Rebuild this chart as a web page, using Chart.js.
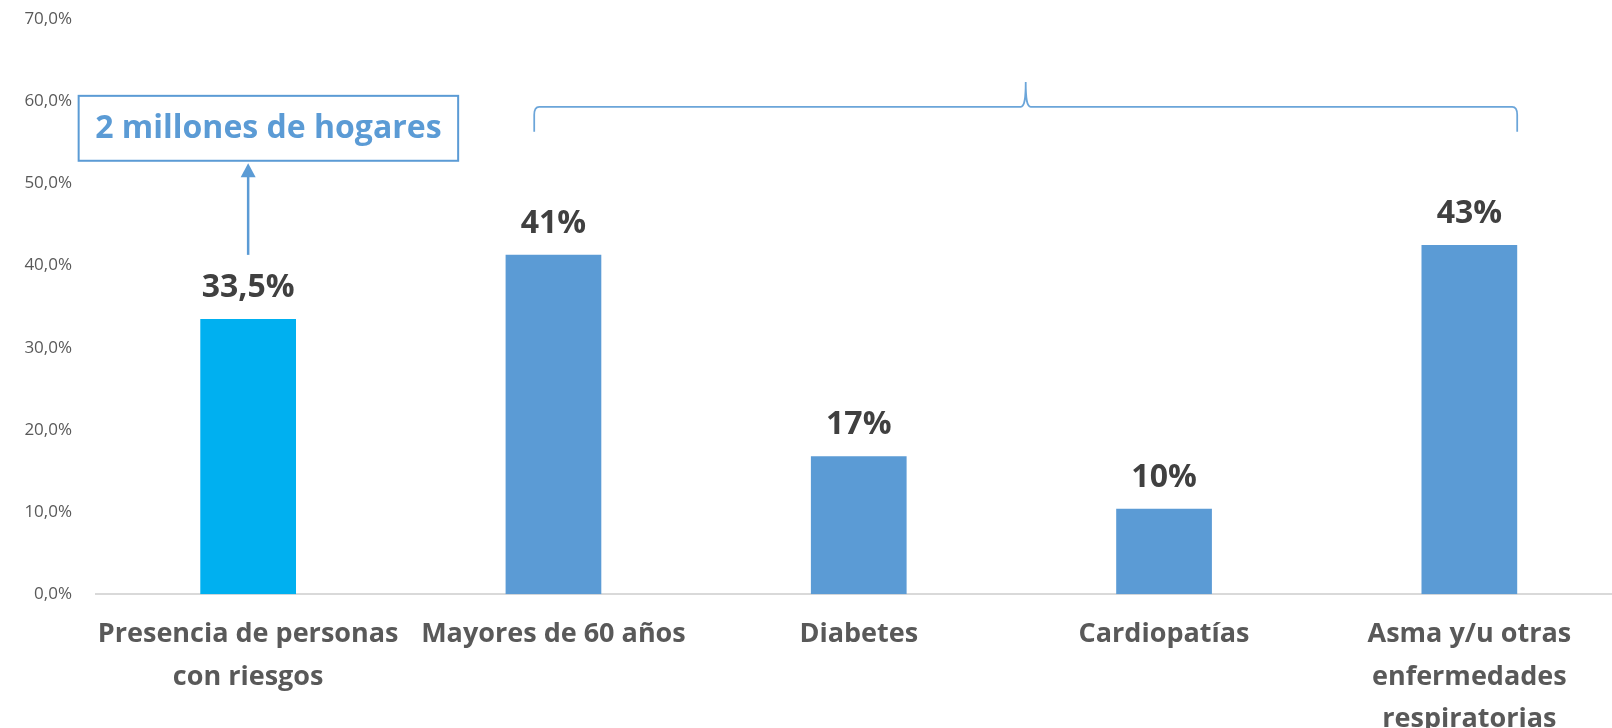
<!DOCTYPE html>
<html>
<head>
<meta charset="utf-8">
<script src="https://cdn.jsdelivr.net/npm/chart.js@4/dist/chart.umd.min.js"></script>
<style>
  html, body { margin: 0; padding: 0; background: #ffffff; overflow: hidden; width: 1612px; height: 728px; }
  #wrap { position: absolute; left: 0; top: 0; width: 1622px; height: 728px; }
</style>
</head>
<body>
<div id="wrap"><canvas id="c"></canvas></div>
<script>
// ---- data ----
const categories = [
  ["Presencia de personas", "con riesgos"],
  "Mayores de 60 años",
  "Diabetes",
  "Cardiopatías",
  ["Asma y/u otras", "enfermedades", "respiratorias"]
];
const values = [33.5, 41.3, 16.8, 10.4, 42.5];
const valueLabels = ["33,5%", "41%", "17%", "10%", "43%"];
const barColors = ["#00B0F0", "#5B9BD5", "#5B9BD5", "#5B9BD5", "#5B9BD5"];
const yMin = 0, yMax = 70, yStep = 10;
const calloutText = "2 millones de hogares";

const FONT = "'Open Sans', sans-serif";
const BLUE = "#5B9BD5";

const valueLabelPlugin = {
  id: 'valueLabels',
  afterDatasetsDraw(chart) {
    const ctx = chart.ctx;
    const meta = chart.getDatasetMeta(0);
    ctx.save();
    ctx.font = "bold 32px " + FONT;
    ctx.fillStyle = "#404040";
    ctx.textAlign = "center";
    ctx.textBaseline = "alphabetic";
    meta.data.forEach((bar, i) => {
      ctx.fillText(valueLabels[i], bar.x, bar.y - 22);
    });
    ctx.restore();
  }
};

const annotationPlugin = {
  id: 'annotations',
  afterDraw(chart) {
    const ctx = chart.ctx;
    const xs = chart.scales.x, ys = chart.scales.y;
    const c0 = xs.getPixelForValue(0);
    const c1 = xs.getPixelForValue(1);
    const c4 = xs.getPixelForValue(4);
    const cw = xs.getPixelForValue(1) - xs.getPixelForValue(0);
    const bar = chart.getDatasetMeta(0).data[4];
    const half = bar.width / 2;

    ctx.save();
    // callout box
    const bx0 = c0 - 169.5, bx1 = c0 + 210;
    const by0 = ys.getPixelForValue(60.65), by1 = ys.getPixelForValue(52.75);
    ctx.strokeStyle = BLUE;
    ctx.lineWidth = 2;
    ctx.strokeRect(bx0, by0, bx1 - bx0, by1 - by0);
    ctx.fillStyle = BLUE;
    ctx.font = "bold 32px " + FONT;
    ctx.textAlign = "center";
    ctx.textBaseline = "middle";
    ctx.fillText(calloutText, (bx0 + bx1) / 2, (by0 + by1) / 2 + 1);

    // arrow
    const ay0 = ys.getPixelForValue(41.3);
    const tip = by1 + 2.5;
    ctx.beginPath();
    ctx.moveTo(c0, ay0);
    ctx.lineTo(c0, tip + 12);
    ctx.lineWidth = 2.5;
    ctx.stroke();
    ctx.beginPath();
    ctx.moveTo(c0, tip);
    ctx.lineTo(c0 - 7.5, tip + 14);
    ctx.lineTo(c0 + 7.5, tip + 14);
    ctx.closePath();
    ctx.fill();

    // brace
    const L = c1 - 0.063 * cw;
    const R = c4 + half;
    const C = (L + R) / 2;
    const hy = ys.getPixelForValue(59.32);
    const bot = ys.getPixelForValue(56.29);
    const peak = ys.getPixelForValue(62.33);
    ctx.beginPath();
    ctx.moveTo(L, bot);
    ctx.lineTo(L, hy + 8);
    ctx.quadraticCurveTo(L, hy, L + 5, hy);
    ctx.lineTo(C - 5, hy);
    ctx.bezierCurveTo(C - 1.5, hy, C, hy - 6, C, peak);
    ctx.bezierCurveTo(C, hy - 6, C + 1.5, hy, C + 5, hy);
    ctx.lineTo(R - 5, hy);
    ctx.quadraticCurveTo(R, hy, R, hy + 8);
    ctx.lineTo(R, bot);
    ctx.strokeStyle = "rgba(91,155,213,0.9)";
    ctx.lineWidth = 1.75;
    ctx.stroke();
    ctx.restore();
  }
};

new Chart(document.getElementById('c'), {
  type: 'bar',
  data: {
    labels: categories,
    datasets: [{
      data: values,
      backgroundColor: barColors,
      borderWidth: 0,
      categoryPercentage: 1.0,
      barPercentage: 0.3135
    }]
  },
  options: {
    responsive: true,
    maintainAspectRatio: false,
    animation: false,
    events: [],
    layout: { padding: { left: 0, right: 0, top: 19, bottom: 0 } },
    plugins: {
      legend: { display: false },
      tooltip: { enabled: false },
      title: { display: false }
    },
    scales: {
      x: {
        offset: true,
        grid: { display: false, drawTicks: false },
        border: { display: true, color: "#d9d9d9", width: 2 },
        ticks: {
          autoSkip: false,
          maxRotation: 0,
          minRotation: 0,
          padding: 19,
          color: "#595959",
          font: { family: FONT, size: 27, weight: 'bold', lineHeight: 1.57 }
        },
        afterFit(s) { s.height = 133.7; }
      },
      y: {
        min: yMin,
        max: yMax,
        grid: { display: false, drawTicks: false },
        border: { display: false },
        ticks: {
          stepSize: yStep,
          padding: 23.5,
          color: "#595959",
          font: { family: FONT, size: 17 },
          callback: v => v.toFixed(1).replace('.', ',') + '%'
        },
        afterFit(s) { s.width = 95.5; s.paddingTop = 10; s.paddingBottom = 10; }
      }
    }
  },
  plugins: [valueLabelPlugin, annotationPlugin]
});
</script>
</body>
</html>
